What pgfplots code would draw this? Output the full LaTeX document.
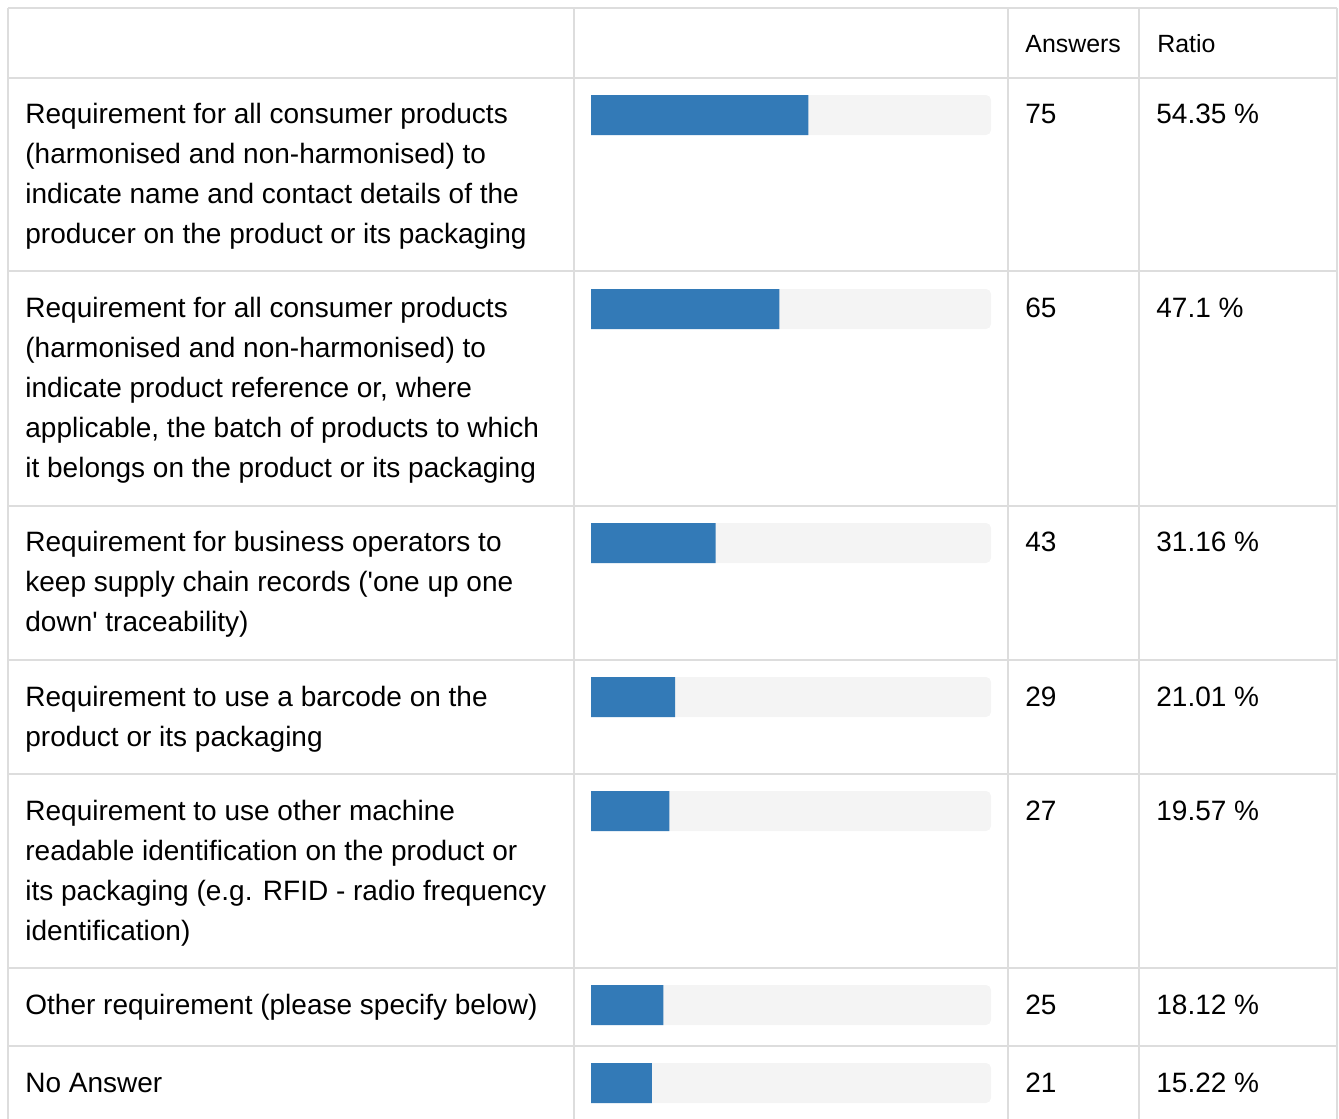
\documentclass[border=0pt]{standalone}
\usepackage{pgfplots}
\pgfplotsset{compat=1.18}
\usepackage{fontspec}
\setmainfont{Liberation Sans}
\definecolor{gridgray}{HTML}{DDDDDD}
\definecolor{bggray}{HTML}{F4F4F4}
\definecolor{barblue}{HTML}{337AB7}
\begin{document}
\begin{tikzpicture}
\path[use as bounding box] (0pt,0pt) rectangle (669.5pt,-559.5pt);
\begin{scope}[x=0.5pt,y=-0.5pt]
\clip (0,0) rectangle (1339,1119);
\draw[gridgray, line width=1pt]
  (8,8) -- (1337,8)
  (8,78) -- (1337,78)
  (8,271) -- (1337,271)
  (8,506) -- (1337,506)
  (8,660) -- (1337,660)
  (8,774) -- (1337,774)
  (8,968) -- (1337,968)
  (8,1046) -- (1337,1046)
  (8,8) -- (8,1130)
  (574,8) -- (574,1130)
  (1008,8) -- (1008,1130)
  (1139,8) -- (1139,1130)
  (1337,8) -- (1337,1130);
\end{scope}
\begin{axis}[at={(295.5pt,0pt)}, anchor=north west,
  width=200pt, height=559.5pt, scale only axis,
  xmin=0, xmax=100, ymin=0, ymax=1119, y dir=reverse,
  hide axis, clip=false, xbar, bar width=20pt, bar shift=0pt]
\addplot[fill=bggray, draw=none, rounded corners=2.5pt] coordinates {
  (100,115) (100,309) (100,543) (100,697) (100,811) (100,1005) (100,1083)};
\addplot[fill=barblue, draw=none] coordinates {
  (54.35,115) (47.1,309) (31.16,543) (21.01,697) (19.57,811) (18.12,1005) (15.22,1083)};
\end{axis}
\begin{scope}[x=0.5pt,y=-0.5pt, every node/.style={anchor=base west, inner sep=0pt, font=\fontsize{14pt}{20pt}\selectfont}]
\node[font=\fontsize{12.45pt}{20pt}\selectfont] at (1025,52) {Answers};
\node[font=\fontsize{12.45pt}{20pt}\selectfont] at (1157,52) {Ratio};
% row 1
\node at (25,123) {Requirement for all consumer products};
\node at (25,163) {(harmonised and non-harmonised) to};
\node at (25,203) {indicate name and contact details of the};
\node at (25,243) {producer on the product or its packaging};
\node at (1025,123) {75};
\node at (1156,123) {54.35 \%};
% row 2
\node at (25,317) {Requirement for all consumer products};
\node at (25,357) {(harmonised and non-harmonised) to};
\node at (25,397) {indicate product reference or, where};
\node at (25,437) {applicable, the batch of products to which};
\node at (25,477) {it belongs on the product or its packaging};
\node at (1025,317) {65};
\node at (1156,317) {47.1 \%};
% row 3
\node at (25,551) {Requirement for business operators to};
\node at (25,591) {keep supply chain records (\textquotesingle one up one};
\node at (25,631) {down\textquotesingle\ traceability)};
\node at (1025,551) {43};
\node at (1156,551) {31.16 \%};
% row 4
\node at (25,706) {Requirement to use a barcode on the};
\node at (25,746) {product or its packaging};
\node at (1025,706) {29};
\node at (1156,706) {21.01 \%};
% row 5
\node at (25,820) {Requirement to use other machine};
\node at (25,860) {readable identification on the product or};
\node at (25,900) {its packaging (e.g. RFID - radio frequency};
\node at (25,940) {identification)};
\node at (1025,820) {27};
\node at (1156,820) {19.57 \%};
% row 6
\node at (25,1014) {Other requirement (please specify below)};
\node at (1025,1014) {25};
\node at (1156,1014) {18.12 \%};
% row 7
\node at (25,1092) {No Answer};
\node at (1025,1092) {21};
\node at (1156,1092) {15.22 \%};
\end{scope}
\end{tikzpicture}
\end{document}
